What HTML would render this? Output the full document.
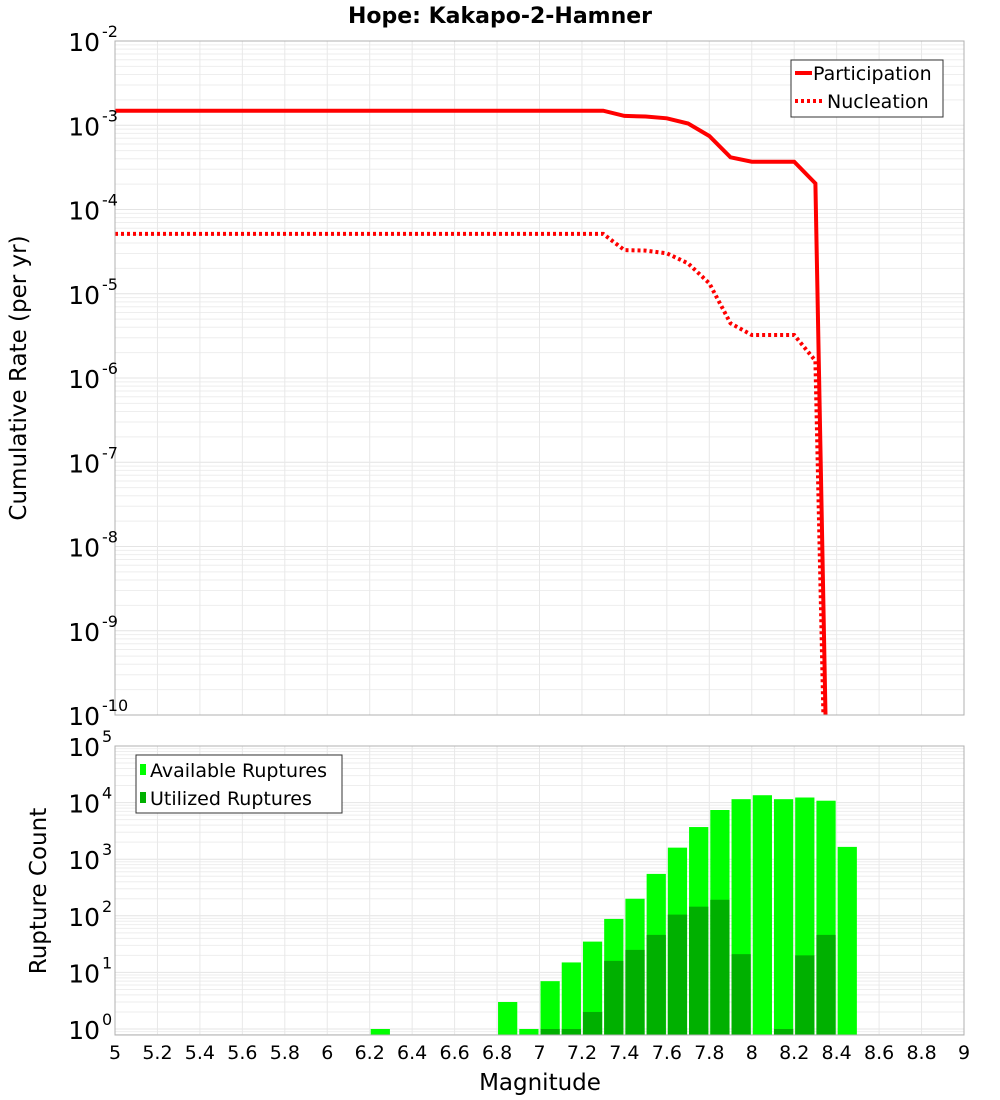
<!DOCTYPE html>
<html><head><meta charset="utf-8"><style>
html,body{margin:0;background:#fff;overflow:hidden;width:1000px;height:1100px;}
svg{display:block;font-family:"DejaVu Sans","Liberation Sans",sans-serif;}
</style></head><body>
<svg id="c" width="1000" height="1100" xmlns="http://www.w3.org/2000/svg"></svg>
<script>
const mags=[5,5.1,5.2,5.3,5.4,5.5,5.6,5.7,5.8,5.9,6,6.1,6.2,6.3,6.4,6.5,6.6,6.7,6.8,6.9,7,7.1,7.2,7.3,7.4,7.5,7.6,7.7,7.8,7.9,8,8.1,8.2,8.3,8.4];
const participation=[1.49e-3,1.49e-3,1.49e-3,1.49e-3,1.49e-3,1.49e-3,1.49e-3,1.49e-3,1.49e-3,1.49e-3,1.49e-3,1.49e-3,1.49e-3,1.49e-3,1.49e-3,1.49e-3,1.49e-3,1.49e-3,1.49e-3,1.49e-3,1.49e-3,1.49e-3,1.49e-3,1.49e-3,1.29e-3,1.27e-3,1.21e-3,1.05e-3,7.45e-4,4.17e-4,3.69e-4,3.69e-4,3.69e-4,2.04e-4,1e-17];
const nucleation=[5.13e-5,5.13e-5,5.13e-5,5.13e-5,5.13e-5,5.13e-5,5.13e-5,5.13e-5,5.13e-5,5.13e-5,5.13e-5,5.13e-5,5.13e-5,5.13e-5,5.13e-5,5.13e-5,5.13e-5,5.13e-5,5.13e-5,5.13e-5,5.13e-5,5.13e-5,5.13e-5,5.13e-5,3.3e-5,3.25e-5,3.02e-5,2.29e-5,1.33e-5,4.46e-6,3.24e-6,3.24e-6,3.24e-6,1.6e-6,1e-17];
const binStarts=[6.2,6.8,6.9,7.0,7.1,7.2,7.3,7.4,7.5,7.6,7.7,7.8,7.9,8.0,8.1,8.2,8.3,8.4];
const available=[1,3,1,7,15,35,88,200,550,1600,3700,7400,11500,13500,11500,12300,10800,1650];
const utilized=[0,0,0,1,1,2,16,25,46,105,145,192,21,0,1,20,46,0];
const xTicks=[5,5.2,5.4,5.6,5.8,6,6.2,6.4,6.6,6.8,7,7.2,7.4,7.6,7.8,8,8.2,8.4,8.6,8.8,9];
const topExps=[-2,-3,-4,-5,-6,-7,-8,-9,-10];
const botExps=[5,4,3,2,1,0];

const NS="http://www.w3.org/2000/svg";
const svg=document.getElementById('c');
function el(tag,attrs,parent){const e=document.createElementNS(NS,tag);for(const k in attrs)e.setAttribute(k,attrs[k]);(parent||svg).appendChild(e);return e;}
const L=115,R=964;
const X=m=>L+(m-5)/4*(R-L);
const T0=41,T1=715; const Ytop=v=>T0+(-2-Math.log10(v))/8*(T1-T0);
const B0=746,B1=1035,BD=56.6; const Ybot=v=>B0+(5-Math.log10(v))*BD;

let t=el('text',{x:500,y:23,'text-anchor':'middle','font-size':22,'font-weight':'bold'});t.textContent='Hope: Kakapo-2-Hamner';


function grid(y0,y1,yf,expHi,expLo,name){
  const g=el('g',{});
  
  for(let e=expLo;e<expHi;e++){for(let k=1;k<10;k++){const y=yf(k*Math.pow(10,e));if(y<y0||y>y1)continue;el('line',{x1:L,x2:R,y1:y,y2:y,stroke:k==1?'#e4e4e4':'#eeeeee','stroke-width':1},g);}}
  xTicks.forEach(m=>{el('line',{x1:X(m),x2:X(m),y1:y0,y2:y1,stroke:'#e8e8e8','stroke-width':1},g);});
}
grid(T0,T1,Ytop,-2,-11,'top');
grid(B0,B1,Ybot,5,-1,'bottom');

function path(arr){return arr.map((v,i)=>(i?'L':'M')+X(mags[i]).toFixed(1)+','+Ytop(v).toFixed(1)).join(' ');}
el('clipPath',{id:'cp'}).appendChild(el('rect',{x:L,y:T0,width:R-L,height:T1-T0}));
let p=el('path',{d:path(participation),fill:'none',stroke:'#ff0000','stroke-width':4,'clip-path':'url(#cp)'});

p=el('path',{d:path(nucleation),fill:'none',stroke:'#ff0000','stroke-width':4,'stroke-dasharray':'3,3','clip-path':'url(#cp)'});


binStarts.forEach((m,i)=>{
  const x0=X(m)+1,x1=X(m+0.1)-1;
  let r=el('rect',{x:x0,y:Ybot(available[i]),width:x1-x0,height:B1-Ybot(available[i]),fill:'#00ff00'});
  
  if(utilized[i]>0){r=el('rect',{x:x0,y:Ybot(utilized[i]),width:x1-x0,height:B1-Ybot(utilized[i]),fill:'#00b000'});
  }
});

let f=el('rect',{x:L,y:T0,width:R-L,height:T1-T0,fill:'none',stroke:'#b0b0b0','stroke-width':1});

f=el('rect',{x:L,y:B0,width:R-L,height:B1-B0,fill:'none',stroke:'#b0b0b0','stroke-width':1});


function ylab(y,e,name){const tx=el('text',{x:100,y:y+10,'text-anchor':'end','font-size':25});tx.textContent='10';
  
  const s=el('text',{x:102,y:y-4,'font-size':16});s.textContent=String(e);
  }
topExps.forEach(e=>ylab(Ytop(Math.pow(10,e)),e,'top-y-tick-label'));
botExps.forEach(e=>ylab(Ybot(Math.pow(10,e)),e,'bottom-y-tick-label'));
xTicks.forEach(m=>{const tx=el('text',{x:X(m),y:1059,'text-anchor':'middle','font-size':19});tx.textContent=String(m);
  });

t=el('text',{x:540,y:1090,'text-anchor':'middle','font-size':23});t.textContent='Magnitude';

t=el('text',{x:0,y:0,'text-anchor':'middle','font-size':23,transform:'translate(26,378) rotate(-90)'});t.textContent='Cumulative Rate (per yr)';

t=el('text',{x:0,y:0,'text-anchor':'middle','font-size':23,transform:'translate(46,891) rotate(-90)'});t.textContent='Rupture Count';


let lg=el('g',{});
el('rect',{x:791,y:60,width:152,height:57,fill:'#fff',stroke:'#333','stroke-width':1},lg);
el('line',{x1:795,x2:812,y1:73,y2:73,stroke:'#ff0000','stroke-width':4},lg);
el('line',{x1:795,x2:822,y1:101,y2:101,stroke:'#ff0000','stroke-width':4,'stroke-dasharray':'3,3'},lg);
t=el('text',{x:813,y:80,'font-size':19},lg);t.textContent='Participation';
t=el('text',{x:827,y:108,'font-size':19},lg);t.textContent='Nucleation';

lg=el('g',{});
el('rect',{x:136,y:755,width:206,height:58,fill:'#fff',stroke:'#333','stroke-width':1},lg);
el('rect',{x:140,y:764,width:6,height:11,fill:'#00ff00'},lg);
el('rect',{x:140,y:792,width:6,height:11,fill:'#00b000'},lg);
t=el('text',{x:150,y:777,'font-size':19},lg);t.textContent='Available Ruptures';
t=el('text',{x:150,y:805,'font-size':19},lg);t.textContent='Utilized Ruptures';
</script>
</body></html>
